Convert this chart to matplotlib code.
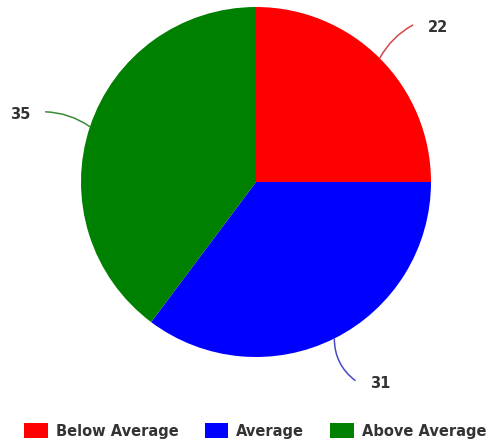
import numpy as np
import matplotlib.pyplot as plt
from matplotlib.path import Path
from matplotlib.patches import PathPatch

labels = ['Below Average', 'Average', 'Above Average']
counts = [22, 31, 35]
colors = ['#ff0000', '#0000ff', '#008000']
line_colors = ['#d04848', '#4848c8', '#3a8a3a']
bends = [0.15, -0.25, -0.15]

fig = plt.figure(figsize=(4.88, 4.45), dpi=100)
ax = fig.add_axes([81 / 488, 1 - 357 / 445, 350 / 488, 350 / 445])

wedges, _ = ax.pie(counts, colors=colors, startangle=90, counterclock=False,
                   radius=1, wedgeprops=dict(linewidth=0))
ax.set_xlim(-1, 1)
ax.set_ylim(-1, 1)
ax.axis('off')

# value labels with curved connectors
for w, n, lc, f in zip(wedges, counts, line_colors, bends):
    mid = np.deg2rad((w.theta1 + w.theta2) / 2)
    p0 = np.array([np.cos(mid), np.sin(mid)])
    p1 = 1.27 * p0
    d = p1 - p0
    c = (p0 + p1) / 2 + f * np.array([-d[1], d[0]])
    path = Path([p0, c, p1], [Path.MOVETO, Path.CURVE3, Path.CURVE3])
    ax.add_patch(PathPatch(path, fc='none', ec=lc, lw=1.1, clip_on=False))
    side = 1 if p1[0] > 0 else -1
    ax.text(p1[0] + side * 0.085, p1[1] - 0.015, str(n),
            ha='left' if side > 0 else 'right', va='center', fontsize=10.5,
            fontweight='bold', color='#333333', clip_on=False)

leg = fig.legend(wedges, labels, loc='center', bbox_to_anchor=(0.523, 1 - 431 / 445),
                 ncol=3, frameon=False, handlelength=1.6, handleheight=1.15,
                 handletextpad=0.55, columnspacing=1.8,
                 prop=dict(size=10.5, weight='bold'))
for t in leg.get_texts():
    t.set_color('#333333')

fig.savefig('out.png', dpi=100)
